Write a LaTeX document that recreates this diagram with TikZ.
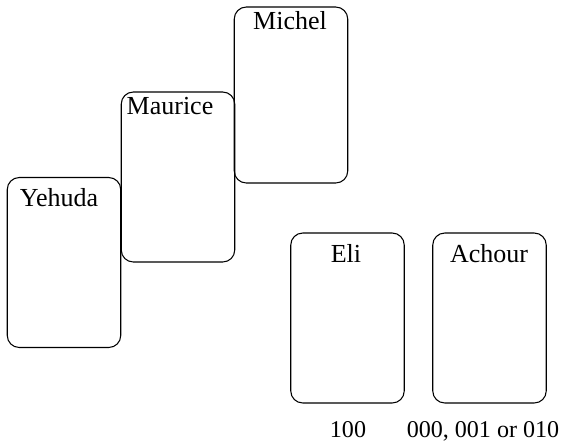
\documentclass[tikz,border=0pt]{standalone}
\usepackage{fontspec}
\setmainfont{Liberation Serif}
\begin{document}
\begin{tikzpicture}[x=0.02cm,y=-0.02cm,
    card/.style={draw,rounded corners=0.24cm,line width=0.6pt,inner sep=0pt,
      minimum width=2.27cm,minimum height=3.4cm},
    who/.style={anchor=base,inner sep=0pt,font=\fontsize{14.8}{17}\selectfont},
    bits/.style={anchor=base,inner sep=0pt,font=\fontsize{13.7}{16}\selectfont}]
    \useasboundingbox (0,0) rectangle (562,441);
    % the cards
    \node[card] (yehuda) at (64,262.5) {};
    \node[card] (maurice) at (178,177) {};
    \node[card,minimum height=3.52cm] (michel) at (291,95) {};
    \node[card] (eli) at (347.5,318) {};
    \node[card] (achour) at (489.5,318) {};
    % names
    \node[who] (yehudaname) at (59,206) {Yehuda};
    \node[who] (mauricename) at (170,114) {Maurice};
    \node[who] (michelname) at (290,29) {Michel};
    \node[who] (eliname) at (346,262) {Eli};
    \node[who] (achourname) at (489,262) {Achour};
    % values
    \node[bits] (elibits) at (348,437) {100};
    \node[bits] (achourbits) at (483,437) {000, 001 or 010};
\end{tikzpicture}
\end{document}
